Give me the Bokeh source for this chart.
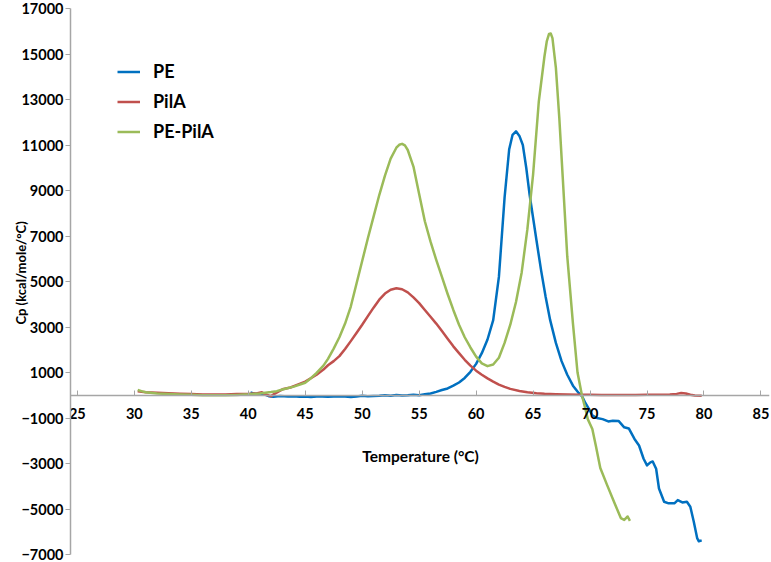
from bokeh.plotting import figure
from bokeh.models import Range1d, FixedTicker, Label, Title
from bokeh.embed import file_html
from bokeh.resources import INLINE

# ---- data ----
pe_t = [40.2, 40.6, 41.0, 41.4, 41.8, 42.2, 42.8, 43.5, 44.0, 44.5, 45.0, 45.5, 46.0, 46.5,
        47.0, 47.5, 48.0, 48.5, 49.0, 49.5, 50.0, 50.5, 51.0, 51.5, 52.0, 52.5, 53.0, 53.5,
        54.0, 54.5, 55.0, 55.5, 56.0, 56.5, 57.0, 57.5, 58.0, 58.5, 59.0, 59.5, 60.0, 60.5,
        61.0, 61.5, 62.0, 62.5, 62.9, 63.2, 63.5, 63.8, 64.1, 64.4, 64.7, 65.0, 65.3, 65.7,
        66.1, 66.5, 67.0, 67.5, 68.0, 68.5, 69.0, 69.3, 69.6, 69.9, 70.2, 70.6, 71.1, 71.6,
        72.0, 72.5, 73.0, 73.4, 73.9, 74.3, 74.7, 75.0, 75.3, 75.5, 75.8, 76.05, 76.5, 76.9,
        77.4, 77.7, 78.1, 78.5, 78.8, 79.1, 79.4, 79.55, 79.8]
pe_cp = [120, 60, 90, 40, -40, -70, -30, -60, -40, -70, -50, -80, -60, -50,
         -70, -60, -40, -60, -80, -50, -20, -40, -30, -20, 0, -20, 10, -10,
         0, 20, 0, 40, 80, 150, 230, 300, 420, 560, 760, 1030, 1380, 1850,
         2450, 3300, 5200, 8700, 10800, 11450, 11600, 11400, 11000, 10000, 8800, 7800, 6800, 5500,
         4330, 3300, 2300, 1500, 900, 420, 100, -50, -350, -600, -880, -1000, -1050, -1150,
         -1120, -1130, -1410, -1460, -1920, -2210, -2790, -3080, -2950, -2910, -3230, -4100, -4680, -4750,
         -4750, -4610, -4710, -4680, -4900, -5550, -6280, -6420, -6380]

pila_t = [30.3, 31.0, 32.0, 33.0, 34.0, 35.0, 36.0, 37.0, 38.0, 39.0, 40.0, 40.8, 41.2, 41.6,
          42.0, 42.3, 42.8, 43.0, 43.7, 44.0, 45.0, 46.0, 46.6, 47.0, 47.5, 48.0, 48.5, 49.0,
          49.5, 50.0, 50.5, 51.0, 51.5, 52.0, 52.5, 53.0, 53.5, 54.0, 54.5, 55.0, 55.5, 56.0,
          56.5, 57.0, 57.5, 58.0, 58.5, 59.0, 59.5, 60.0, 60.5, 61.0, 61.5, 62.0, 62.5, 63.0,
          63.8, 64.5, 65.3, 66.0, 67.0, 68.0, 69.0, 70.0, 71.0, 72.0, 73.0, 74.0, 75.0, 76.0,
          77.0, 77.6, 78.0, 78.4, 78.8, 79.2, 79.8]
pila_cp = [175, 130, 110, 90, 70, 50, 35, 30, 35, 50, 60, 90, 130, 20,
           -40, 60, 200, 260, 340, 400, 600, 900, 1130, 1320, 1500, 1720, 2030, 2380,
           2740, 3100, 3480, 3850, 4200, 4470, 4640, 4700, 4660, 4520, 4300, 4050, 3750, 3450,
           3150, 2820, 2480, 2150, 1850, 1560, 1300, 1080, 900, 740, 600, 470, 370, 280,
           190, 130, 90, 65, 45, 35, 25, 20, 15, 10, 10, 15, 20, 25,
           35, 60, 100, 80, 20, -10, -20]

pepila_t = [30.3, 30.7, 31.0, 32.0, 33.0, 34.0, 35.0, 36.0, 37.0, 38.0, 39.0, 40.0, 41.0, 42.0,
            42.5, 43.0, 44.0, 45.0, 45.5, 46.0, 46.6, 47.0, 47.5, 48.0, 48.5, 49.0, 49.5, 50.0,
            50.5, 51.0, 51.5, 52.0, 52.5, 53.0, 53.25, 53.5, 53.75, 54.0, 54.5, 55.0, 55.5, 56.0,
            56.5, 57.0, 57.5, 58.0, 58.5, 59.0, 59.5, 60.0, 60.5, 61.0, 61.5, 62.0, 62.5, 63.0,
            63.5, 64.0, 64.5, 65.0, 65.5, 66.0, 66.2, 66.4, 66.55, 66.7, 67.0, 67.3, 67.6, 68.0,
            68.5, 68.9, 69.3, 69.6, 69.8, 70.2, 70.5, 70.9, 71.5, 72.1, 72.7, 73.0, 73.3, 73.5]
pepila_cp = [230, 170, 130, 80, 55, 35, 20, 5, -5, 0, 15, 40, 80, 140,
             180, 250, 380, 550, 750, 980, 1300, 1600, 2050, 2550, 3150, 3900, 4900, 5900,
             6900, 7850, 8800, 9650, 10400, 10880, 11010, 11050, 10980, 10780, 10050, 8850, 7650, 6750,
             5950, 5200, 4450, 3750, 3100, 2550, 2100, 1700, 1400, 1280, 1350, 1650, 2300, 3100,
             4100, 5400, 7300, 9700, 12900, 14900, 15550, 15880, 15900, 15700, 14400, 12200, 9600, 6100,
             3150, 1000, -30, -610, -1050, -1480, -2200, -3200, -3950, -4680, -5400, -5480, -5330, -5520]

series_names = ["PE", "PilA", "PE-PilA"]
x_ticks = [25, 30, 35, 40, 45, 50, 55, 60, 65, 70, 75, 80, 85]
y_ticks = [-7000, -5000, -3000, -1000, 1000, 3000, 5000, 7000, 9000, 11000, 13000, 15000, 17000]
x_title = "Temperature  (°C)"
y_title = "Cp (kcal/mole/°C)"

FONT = "Lato"
AXIS_GREY = "#a6a6a6"

p = figure(width=771, height=562, output_backend="svg", toolbar_location=None,
           x_range=Range1d(24.4, 85.75), y_range=Range1d(-7000, 17000),
           min_border_left=70, min_border_right=2, min_border_top=8, min_border_bottom=8)
p.outline_line_color = None
p.grid.visible = False

colors = ["#0070C0", "#C0504D", "#9BBB59"]
for (tx, cy), name, c in zip([(pe_t, pe_cp), (pila_t, pila_cp), (pepila_t, pepila_cp)],
                             series_names, colors):
    p.line(tx, cy, line_color=c, line_width=2.5, line_join="round", legend_label=name)

# x axis crossing at zero
xa = p.xaxis[0]
xa.fixed_location = 0
xa.ticker = FixedTicker(ticks=x_ticks)
xa.axis_line_color = AXIS_GREY
xa.axis_line_width = 1.5
xa.major_tick_line_color = AXIS_GREY
xa.major_tick_in = 5
xa.major_tick_out = 0
xa.minor_tick_line_color = None
xa.major_label_standoff = 13
xa.major_label_text_font = FONT
xa.major_label_text_font_style = "bold"
xa.major_label_text_font_size = "14.5px"
xa.major_label_text_color = "#000000"

ya = p.yaxis[0]
ya.ticker = FixedTicker(ticks=y_ticks)
ya.axis_line_color = AXIS_GREY
ya.axis_line_width = 1.5
ya.major_tick_line_color = AXIS_GREY
ya.major_tick_in = 0
ya.major_tick_out = 5
ya.minor_tick_line_color = None
ya.major_label_standoff = 2
ya.major_label_text_font = FONT
ya.major_label_text_font_style = "bold"
ya.major_label_text_font_size = "14.5px"
ya.major_label_text_color = "#000000"

# y axis title, placed in the left panel
p.add_layout(Title(text=y_title, align="left", offset=230, vertical_align="bottom",
                   standoff=-20, text_font=FONT, text_font_style="bold",
                   text_font_size="13px", text_color="#000000"), "left")

# x axis title (sits inside the plot area below the zero line)
p.add_layout(Label(x=352, y=99, x_units="screen", y_units="screen", text=x_title,
                   text_font=FONT, text_font_style="bold", text_font_size="15.5px",
                   text_align="center", text_baseline="middle", text_color="#000000"))

lg = p.legend[0]
lg.location = (47, 412)
lg.padding = 0
lg.margin = 0
lg.spacing = 8
lg.glyph_width = 23
lg.glyph_height = 21
lg.label_height = 21
lg.label_standoff = 13
lg.border_line_color = None
lg.background_fill_alpha = 0
lg.label_text_font = FONT
lg.label_text_font_style = "bold"
lg.label_text_font_size = "18px"
lg.label_text_color = "#000000"

open("out.html", "w").write(file_html(p, INLINE))
